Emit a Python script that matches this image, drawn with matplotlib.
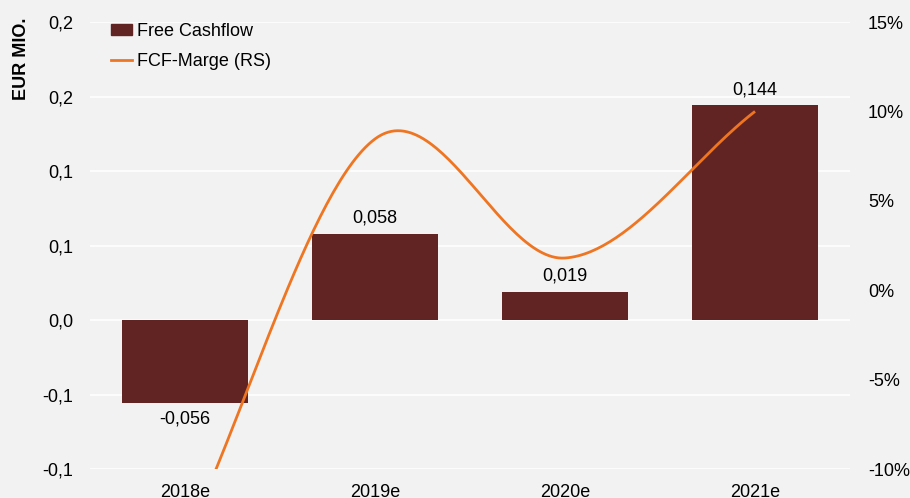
import numpy as np
import matplotlib.pyplot as plt
from matplotlib.lines import Line2D
from matplotlib.patches import Patch

plt.rcParams['font.family'] = ['Liberation Sans', 'DejaVu Sans']
plt.rcParams['font.size'] = 13

years = ["2018e", "2019e", "2020e", "2021e"]
fcf = [-0.056, 0.058, 0.019, 0.144]          # EUR Mio.
fcf_margin = [-14.0, 8.46, 1.8, 10.0]        # % (right scale)
left_ticks = [-0.1, -0.05, 0.0, 0.05, 0.1, 0.15, 0.2]
left_labels = ["-0,1", "-0,1", "0,0", "0,1", "0,1", "0,2", "0,2"]
right_ticks = [-10, -5, 0, 5, 10, 15]

BAR = "#622423"
LINE = "#EE7623"
BG = "#F2F2F2"


def smooth(x, y, n=60):
    # Catmull-Rom style spline, end tangents taken from the neighbouring point
    x = np.asarray(x, float)
    y = np.asarray(y, float)
    m = np.empty_like(y)
    m[1:-1] = (y[2:] - y[:-2]) / 2
    m[0] = y[1] - y[0]
    m[-1] = y[-1] - y[-2]
    xs, ys = [], []
    for i in range(len(x) - 1):
        t = np.linspace(0, 1, n)
        h00 = 2 * t**3 - 3 * t**2 + 1
        h10 = t**3 - 2 * t**2 + t
        h01 = -2 * t**3 + 3 * t**2
        h11 = t**3 - t**2
        xs.append(x[i] + (x[i + 1] - x[i]) * t)
        ys.append(h00 * y[i] + h10 * m[i] + h01 * y[i + 1] + h11 * m[i + 1])
    return np.concatenate(xs), np.concatenate(ys)


fig = plt.figure(figsize=(9.1, 4.98), dpi=100, facecolor=BG)
ax = fig.add_axes([90 / 910, 29 / 498, 760 / 910, 447 / 498])
ax.set_facecolor(BG)

pos = np.arange(len(years))
bars = ax.bar(pos, fcf, width=0.66, color=BAR, zorder=2)
ax.set_xlim(-0.5, 3.5)
ax.set_ylim(-0.1, 0.2)
ax.set_yticks(left_ticks)
ax.set_yticklabels(left_labels)
ax.set_xticks(pos)
ax.set_xticklabels(years)
ax.grid(axis="y", color="white", linewidth=1.2, zorder=0)
ax.set_axisbelow(True)
for s in ax.spines.values():
    s.set_visible(False)
ax.tick_params(length=0)
ax.tick_params(axis="y", pad=12)
ax.tick_params(axis="x", pad=11)

for b, v in zip(bars, fcf):
    txt = f"{v:.3f}".replace(".", ",")
    if v >= 0:
        ax.annotate(txt, (b.get_x() + b.get_width() / 2, v), xytext=(0, 5),
                    textcoords="offset points", ha="center", va="bottom")
    else:
        ax.annotate(txt, (b.get_x() + b.get_width() / 2, v), xytext=(0, -5),
                    textcoords="offset points", ha="center", va="top")

ax2 = ax.twinx()
ax2.set_ylim(-10, 15)
ax2.set_yticks(right_ticks)
ax2.set_yticklabels([f"{v}%" for v in right_ticks])
for s in ax2.spines.values():
    s.set_visible(False)
ax2.tick_params(length=0, pad=13)
sx, sy = smooth(pos, fcf_margin)
ax2.plot(sx, sy, color=LINE, linewidth=2, zorder=3, solid_capstyle="butt")

fig.text(21 / 910, 1 - 59 / 498, "EUR MIO.", rotation=90, ha="center",
         va="center", fontweight="bold", fontsize=13)

handles = [Patch(color=BAR), Line2D([], [], color=LINE, linewidth=2)]
ax.legend(handles, ["Free Cashflow", "FCF-Marge (RS)"], loc="upper left",
          bbox_to_anchor=(0.006, 1.035), frameon=False, handlelength=1.2,
          handleheight=0.6, handletextpad=0.25, labelspacing=0.75, fontsize=13)

fig.savefig("out.png", dpi=100, facecolor=BG)
